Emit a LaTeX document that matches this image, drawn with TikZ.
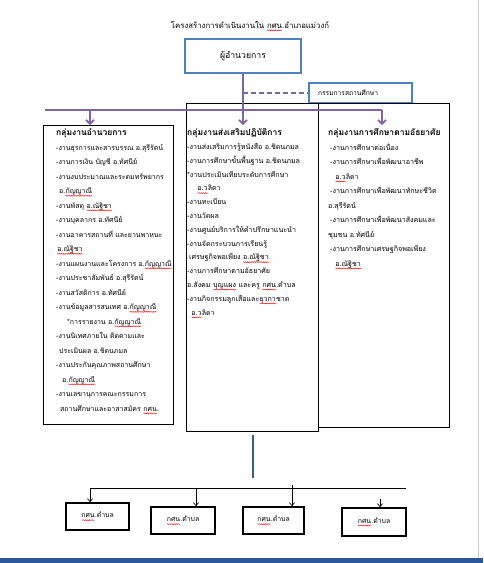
\documentclass[tikz,border=0pt]{standalone}
\usepackage{fontspec}
\newfontfamily\thaifont[Script=Thai]{Loma}
\usetikzlibrary{arrows.meta,positioning,decorations.pathmorphing}
\definecolor{officeblue}{RGB}{79,129,189}
\definecolor{officepurple}{RGB}{128,100,162}
\definecolor{stemblue}{RGB}{56,93,138}
\definecolor{barblue}{RGB}{43,87,154}

\tikzset{
  groupbox/.style={draw=black, line width=0.9pt, inner sep=0pt, outer sep=0pt, anchor=north west},
  listtext/.style={font=\thaifont\fontsize{7.1}{14.5}\selectfont, align=left, anchor=north west, inner sep=0pt},
  purpleline/.style={draw=officepurple, line width=2pt},
  purplearrow/.style={purpleline, -{Straight Barb[length=4pt,width=8pt,line width=1.6pt]}},
  tambonbox/.style={draw=black, line width=1.6pt, minimum width=63pt, minimum height=27pt, inner sep=0pt, font=\thaifont\fontsize{6.9}{8}\selectfont},
  tambonarrow/.style={draw=black, line width=0.7pt, -{Straight Barb[length=3pt,width=5pt]}},
  spellwave/.style={draw=red, line width=0.35pt, decorate, decoration={snake, amplitude=0.45pt, segment length=1.8pt}},
}
\newcommand{\grouphead}[1]{{\bfseries\fontsize{8.5}{14.5}\selectfont #1}}
% red wavy mark of the spell checker
\newcommand{\spell}[1]{\tikz[baseline=(sp.base), x=1pt, y=1pt]{%
  \node[inner sep=0pt, outer sep=0pt, anchor=base, draw=none, minimum size=0pt] (sp) {#1};
  \draw[spellwave] ([yshift=-2.2pt]sp.base west) -- ([yshift=-2.2pt]sp.base east);}}

\begin{document}
\begin{tikzpicture}[x=1pt, y=-1pt]
    \useasboundingbox (0,0) rectangle (483,563);
    % Page edge and bottom bar
    \draw[black!20, line width=0.8pt] (478,0) -- (478,558);
    \fill[barblue] (0,558) rectangle (483,563);

    % Title
    \node[font=\thaifont\fontsize{7.8}{9}\selectfont] (title) at (250,26) {โครงสร้างการดำเนินงานใน \spell{กศน}.อำเภอแม่วงก์};

    % Director
    \node[draw=officeblue, line width=2pt, minimum width=116pt, minimum height=34pt,
          font=\thaifont\fontsize{8.7}{10}\selectfont] (dir) at (243,56) {ผู้อำนวยการ};

    % Committee
    \node[draw=officeblue, line width=1.2pt, text width=85pt, inner xsep=9pt, minimum height=20pt,
          align=left, font=\thaifont\fontsize{6.7}{8}\selectfont] (comm) at (360.5,93) {กรรมการสถานศึกษา};

    % Group boxes
    \node[groupbox, minimum width=130pt, minimum height=299pt] (admin) at (43,125) {};
    \node[groupbox, minimum width=132pt, minimum height=328pt] (promo) at (186,103) {};
    \node[groupbox, minimum width=131pt, minimum height=324pt] (nonformal) at (318,103) {};

    % Purple connectors
    \coordinate (busW) at (45,110);
    \coordinate (adminIn) at (90,125);
    \coordinate (promoIn) at (243,125);
    \coordinate (nonIn) at (382,125);
    \draw[purpleline] (busW) -- (nonIn |- busW);
    \draw[purplearrow] (dir.south) -- (promoIn);
    \draw[purplearrow] (adminIn |- busW) -- (adminIn);
    \draw[purplearrow] (nonIn |- busW) -- (nonIn);
    \draw[purpleline, dashed, dash pattern=on 5pt off 3pt] (dir.south |- comm.west) -- (comm.west);

    % Group texts
    \node[listtext, font=\thaifont\fontsize{7}{14.5}\selectfont] (admintxt) at (56,128.5) {%
      \grouphead{กลุ่มงานอำนวยการ}\\
      -งานธุรการและสารบรรณ อ.สุรีรัตน์\\
      -งานการเงิน บัญชี อ.ทัศนีย์\\
      -งานงบประมาณและระดมทรัพยากร\\
      \hspace*{3pt}อ.\spell{กัญญาณี}\\
      -งานพัสดุ \spell{อ.ณัฐิชา}\\
      -งานบุคลากร อ.ทัศนีย์\\
      -งานอาคารสถานที่ และยานพาหนะ\\
      \hspace*{1pt}\spell{อ.ณัฐิชา}\\
      -งานแผนงานและโครงการ อ.\spell{กัญญาณี}\\
      -งานประชาสัมพันธ์ อ.สุรีรัตน์\\
      -งานสวัสดิการ อ.ทัศนีย์\\
      -งานข้อมูลสารสนเทศ อ.\spell{กัญญาณี}\\
      \hspace*{11pt}*การรายงาน อ.\spell{กัญญาณี}\\
      -งานนิเทศภายใน ติดตามและ\\
      \hspace*{3pt}ประเมินผล อ.ชิดนภมล\\
      -งานประกันคุณภาพสถานศึกษา\\
      \hspace*{6pt}อ.\spell{กัญญาณี}\\
      -งานเลขานุการคณะกรรมการ\\
      \hspace*{4pt}สถานศึกษาและอาสาสมัคร \spell{กศน}.};

    \node[listtext, font=\thaifont\fontsize{7.1}{13.8}\selectfont] (promotxt) at (187,128.5) {%
      \grouphead{กลุ่มงานส่งเสริมปฏิบัติการ}\\
      -งานส่งเสริมการรู้หนังสือ อ.ชิดนภมล\\
      -งานการศึกษาขั้นพื้นฐาน อ.ชิดนภมล\\
      *งานประเมินเทียบระดับการศึกษา\\
      \hspace*{10pt}\spell{อ.ว}ลิดา\\
      -งานทะเบียน\\
      -งานวัดผล\\
      -งานศูนย์บริการให้คำปรึกษาแนะนำ\\
      -งานจัดกระบวนการเรียนรู้\\
      \hspace*{2pt}เศรษฐกิจพอเพียง \spell{อ.ณัฐิชา}\\
      -งานการศึกษาตามอัธยาศัย\\
      อ.สังคม \spell{บุญแผง} และครู \spell{กศน}.ตำบล\\
      -งานกิจกรรมลูกเสือและ\spell{ยุวกา}ชาด\\
      \hspace*{4pt}\spell{อ.ว}ลิดา};

    \node[listtext] (nontxt) at (328,128.5) {%
      \grouphead{กลุ่มงานการศึกษาตามอัธยาศัย}\\
      \hspace*{2pt}-งานการศึกษาต่อเนื่อง\\
      \hspace*{2pt}-งานการศึกษาเพื่อพัฒนาอาชีพ\\
      \hspace*{7pt}\spell{อ.ว}ลิดา\\
      \hspace*{2pt}-งานการศึกษาเพื่อพัฒนาทักษะชีวิต\\
      อ.สุรีรัตน์\\
      \hspace*{2pt}-งานการศึกษาเพื่อพัฒนาสังคมและ\\
      ชุมชน อ.ทัศนีย์\\
      \hspace*{2pt}-งานการศึกษาเศรษฐกิจพอเพียง\\
      \hspace*{7pt}\spell{อ.ณัฐิชา}};

    % Stem to the sub-district centres
    \coordinate (stemTop) at (253,435);
    \coordinate (stemBot) at (253,478);
    \draw[stemblue, line width=2pt] (stemTop) -- (stemBot);

    % Sub-district centres
    \node[tambonbox] (t1) at (97.5,516.5) {\spell{กศน}.ตำบล};
    \node[tambonbox, minimum width=64pt] (t2) at (183,520.5) {\spell{กศน}.ตำบล};
    \node[tambonbox, minimum width=61pt] (t3) at (273.5,520.5) {\spell{กศน}.ตำบล};
    \node[tambonbox, minimum width=64pt, minimum height=28pt] (t4) at (374,522) {\spell{กศน}.ตำบล};

    \coordinate (tbusW) at (90,488);
    \coordinate (tbusE) at (406,488);
    \coordinate (d2) at (196,488);
    \coordinate (d3) at (292,485);
    \coordinate (d4) at (380,499);
    \draw[black, line width=0.8pt] (tbusW) -- (tbusE);
    \draw[tambonarrow] (tbusW) -- (tbusW |- t1.north);
    \draw[tambonarrow] (d2) -- (d2 |- t2.north);
    \draw[tambonarrow] (d3) -- (d3 |- t3.north);
    \draw[tambonarrow] (d4) -- (d4 |- t4.north);
\end{tikzpicture}
\end{document}
